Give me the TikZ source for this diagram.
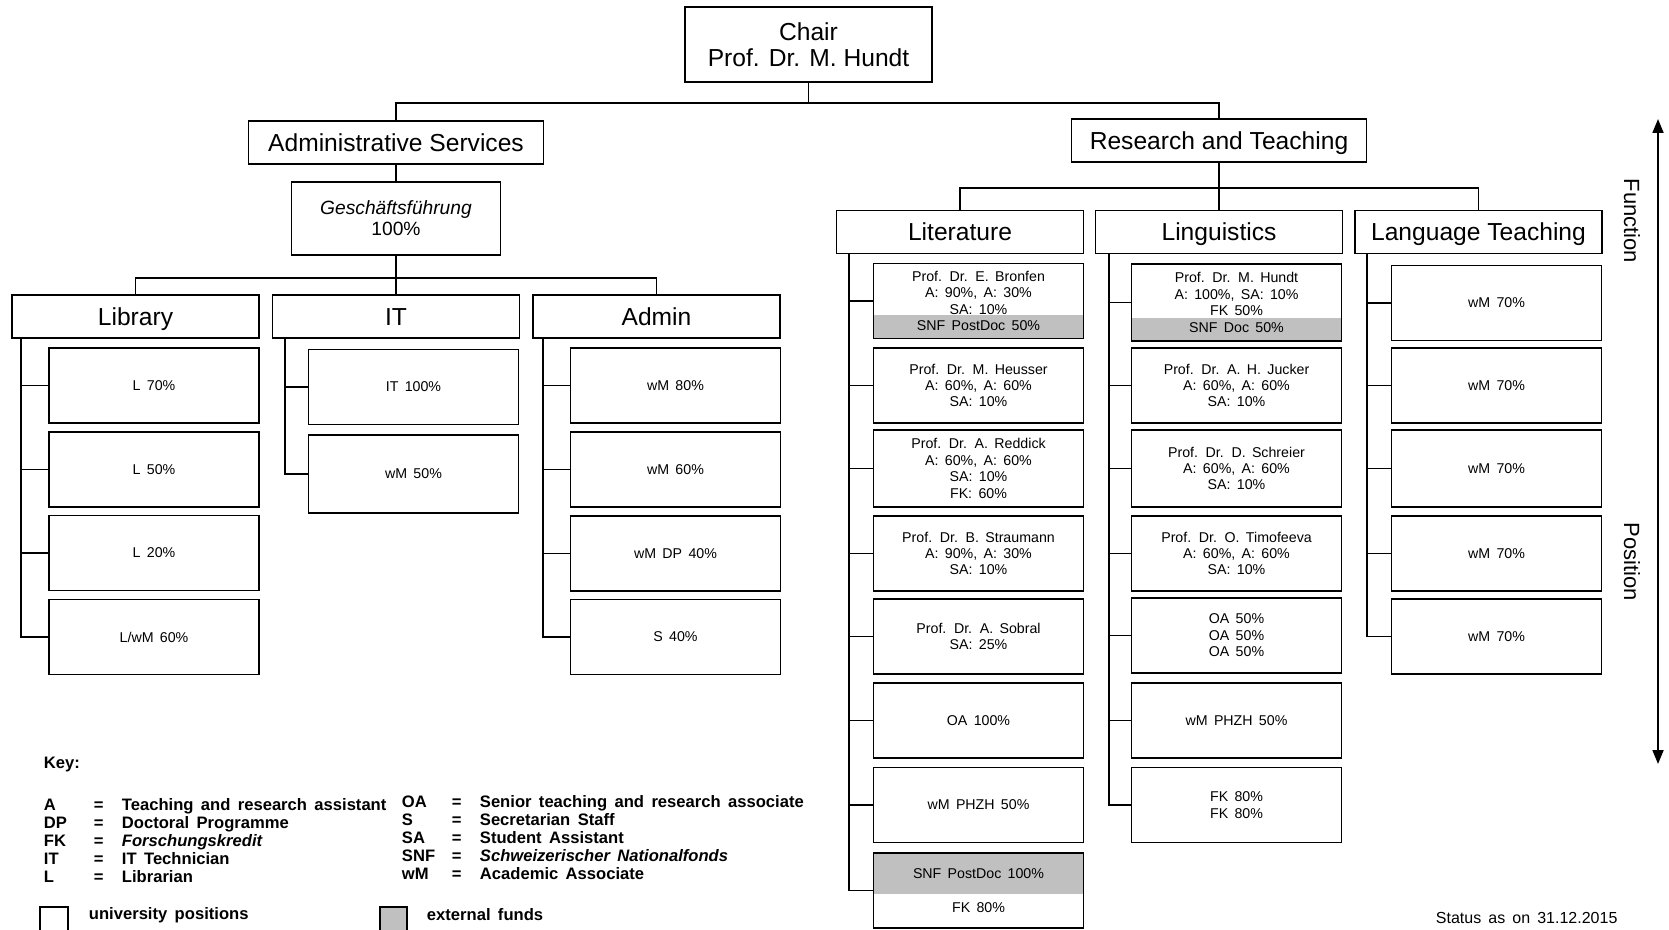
\documentclass[tikz,border=0pt]{standalone}
\usepackage{fontspec}
\usetikzlibrary{arrows.meta}
\setmainfont{Liberation Sans}
\newfontfamily\keyfont[WordSpace=1.6]{Liberation Sans}
\definecolor{extgray}{RGB}{192,192,192}
\newcommand{\keyline}[2]{\makebox[25pt][l]{#1}\makebox[14pt][l]{=}#2}

\begin{document}
\begin{tikzpicture}[x=0.5pt, y=-0.5pt]
\tikzstyle{every node}=[line width=0.95pt, align=center, inner sep=0pt]
\tikzstyle{top}=[draw, minimum width=147.5pt, minimum height=21.5pt, text height=8.8pt, text depth=0pt, font=\fontsize{12.3}{12.8}\selectfont]
\tikzstyle{head}=[draw, minimum width=123.5pt, minimum height=21.5pt, text height=8.8pt, text depth=0pt, font=\fontsize{12.3}{12.8}\selectfont]
\tikzstyle{unit}=[draw, minimum width=105pt, minimum height=37.5pt, font=\keyfont\fontsize{7.1}{8.2}\selectfont]
\tikzstyle{snflow}=[path picture={\fill[extgray] (path picture bounding box.south west) rectangle ([yshift=11.5pt]path picture bounding box.south east);}]
\tikzstyle{snftop}=[path picture={\fill[extgray] (path picture bounding box.north west) rectangle ([yshift=-20.5pt]path picture bounding box.north east);}]
\tikzstyle{link}=[line width=0.95pt]
\tikzstyle{keytext}=[anchor=west, align=left, font=\keyfont\bfseries\fontsize{8.3}{9}\selectfont]
\useasboundingbox (0,0) rectangle (1669,930);

% top levels
\node[draw, minimum width=123.5pt, minimum height=37.5pt, font=\fontsize{12.3}{12.8}\selectfont] (chair) at (808.5,44.5) {Chair\\Prof. Dr. M. Hundt};
\node[top] (admserv) at (396,142.5) {Administrative Services};
\node[top] (research) at (1219,140.5) {Research and Teaching};
\node[draw, minimum width=104.5pt, minimum height=36.5pt, font=\fontsize{9.6}{10.4}\selectfont] (gf) at (396,218.5) {\textit{Geschäftsführung}\\100\%};

% administrative services
\node[head] (lib) at (135.5,316.5) {Library};
\node[head] (it) at (396,316.5) {IT};
\node[head] (adm) at (656.5,316.5) {Admin};

\node[unit] (l1) at (154,385.5) {L 70\%};
\node[unit] (l2) at (154,469.5) {L 50\%};
\node[unit] (l3) at (154,553) {L 20\%};
\node[unit] (l4) at (154,637) {L/wM 60\%};

\node[unit] (it1) at (413.5,387) {IT 100\%};
\node[unit, minimum height=39pt] (it2) at (413.5,474) {wM 50\%};

\node[unit] (a1) at (675.5,385.5) {wM 80\%};
\node[unit] (a2) at (675.5,469.5) {wM 60\%};
\node[unit] (a3) at (675.5,553.5) {wM DP 40\%};
\node[unit] (a4) at (675.5,637) {S 40\%};

% research and teaching
\node[head] (lit) at (960,232) {Literature};
\node[head] (ling) at (1219,232) {Linguistics};
\node[head] (lt) at (1478.5,232) {Language Teaching};

\node[unit, snflow] (lit1) at (978.5,301) {Prof. Dr. E. Bronfen\\A: 90\%, A: 30\%\\SA: 10\%\\SNF PostDoc 50\%};
\node[unit] (lit2) at (978.5,385.5) {Prof. Dr. M. Heusser\\A: 60\%, A: 60\%\\SA: 10\%};
\node[unit, minimum height=38.5pt] (lit3) at (978.5,468.5) {Prof. Dr. A. Reddick\\A: 60\%, A: 60\%\\SA: 10\%\\FK: 60\%};
\node[unit] (lit4) at (978.5,553.5) {Prof. Dr. B. Straumann\\A: 90\%, A: 30\%\\SA: 10\%};
\node[unit] (lit5) at (978.5,636.5) {Prof. Dr. A. Sobral\\SA: 25\%};
\node[unit] (lit6) at (978.5,720.5) {OA 100\%};
\node[unit] (lit7) at (978.5,805) {wM PHZH 50\%};
\node[unit, snftop] (lit8) at (978.5,890.5) {SNF PostDoc 100\%\\[8.5pt]FK 80\%};

\node[unit, snflow, minimum height=38.5pt] (ling1) at (1236.5,302.5) {Prof. Dr. M. Hundt\\A: 100\%, SA: 10\%\\FK 50\%\\SNF Doc 50\%};
\node[unit] (ling2) at (1236.5,385.5) {Prof. Dr. A. H. Jucker\\A: 60\%, A: 60\%\\SA: 10\%};
\node[unit, minimum height=38.5pt] (ling3) at (1236.5,468.5) {Prof. Dr. D. Schreier\\A: 60\%, A: 60\%\\SA: 10\%};
\node[unit] (ling4) at (1236.5,553.5) {Prof. Dr. O. Timofeeva\\A: 60\%, A: 60\%\\SA: 10\%};
\node[unit] (ling5) at (1236.5,635.5) {OA 50\%\\OA 50\%\\OA 50\%};
\node[unit] (ling6) at (1236.5,720.5) {wM PHZH 50\%};
\node[unit] (ling7) at (1236.5,805) {FK 80\%\\FK 80\%};

\node[unit] (lt1) at (1496.5,303) {wM 70\%};
\node[unit] (lt2) at (1496.5,385.5) {wM 70\%};
\node[unit, minimum height=38.5pt] (lt3) at (1496.5,468.5) {wM 70\%};
\node[unit] (lt4) at (1496.5,553.5) {wM 70\%};
\node[unit] (lt5) at (1496.5,636.5) {wM 70\%};

% tree lines
\draw[link] (chair.south) -- ++(0,20) -| (admserv.north)
  (chair.south) -- ++(0,20) -| (research.north);
\draw[link] (admserv.south) -- (gf.north);
\draw[link] (gf.south) -- ++(0,22) -| (lib.north)
  (gf.south) -- (it.north)
  (gf.south) -- ++(0,22) -| (adm.north);
\draw[link] (research.south) -- ++(0,25) -| (lit.north)
  (research.south) -- (ling.north)
  (research.south) -- ++(0,25) -| (lt.north);

\foreach \c in {l1,l2,l3,l4} \draw[link] ([xshift=5pt]lib.south west) |- (\c.west);
\foreach \c in {it1,it2} \draw[link] ([xshift=6.5pt]it.south west) |- (\c.west);
\foreach \c in {a1,a2,a3,a4} \draw[link] ([xshift=5.5pt]adm.south west) |- (\c.west);
\foreach \c in {lit1,lit2,lit3,lit4,lit5,lit6,lit7,lit8} \draw[link] ([xshift=6.5pt]lit.south west) |- (\c.west);
\foreach \c in {ling1,ling2,ling3,ling4,ling5,ling6,ling7} \draw[link] ([xshift=7pt]ling.south west) |- (\c.west);
\foreach \c in {lt1,lt2,lt3,lt4,lt5} \draw[link] ([xshift=6.5pt]lt.south west) |- (\c.west);

% function / position axis
\coordinate (axtop) at (1658,119);
\coordinate (axbot) at (1658,764);
\draw[link, {Triangle[length=7pt, width=5.5pt]}-{Triangle[length=7pt, width=5.5pt]}] (axtop) -- (axbot);
\node[rotate=-90, font=\fontsize{11}{13}\selectfont] (func) at (1632,221) {Function};
\node[rotate=-90, font=\fontsize{11}{13}\selectfont] (pos) at (1632,562) {Position};

% key
\node[keytext] (key) at (43,765) {Key:};
\node[keytext] (keyleft) at (43,840.5) {\keyline{A}{Teaching and research assistant}\\
  \keyline{DP}{Doctoral Programme}\\
  \keyline{FK}{\textit{Forschungskredit}}\\
  \keyline{IT}{IT Technician}\\
  \keyline{L}{Librarian}};
\node[keytext] (keyright) at (401,838) {\keyline{OA}{Senior teaching and research associate}\\
  \keyline{S}{Secretarian Staff}\\
  \keyline{SA}{Student Assistant}\\
  \keyline{SNF}{\textit{Schweizerischer Nationalfonds}}\\
  \keyline{wM}{Academic Associate}};
\node[draw, minimum width=14pt, minimum height=13pt] (keyuni) at (54,920) {};
\node[keytext] (unitext) at (88,915) {university positions};
\node[draw, fill=extgray, minimum width=13.5pt, minimum height=13pt] (keyext) at (393.5,920) {};
\node[keytext] (exttext) at (426,915) {external funds};
\node[anchor=west, font=\keyfont\fontsize{8}{9}\selectfont] (status) at (1435,918) {Status as on 31.12.2015};
\end{tikzpicture}
\end{document}
